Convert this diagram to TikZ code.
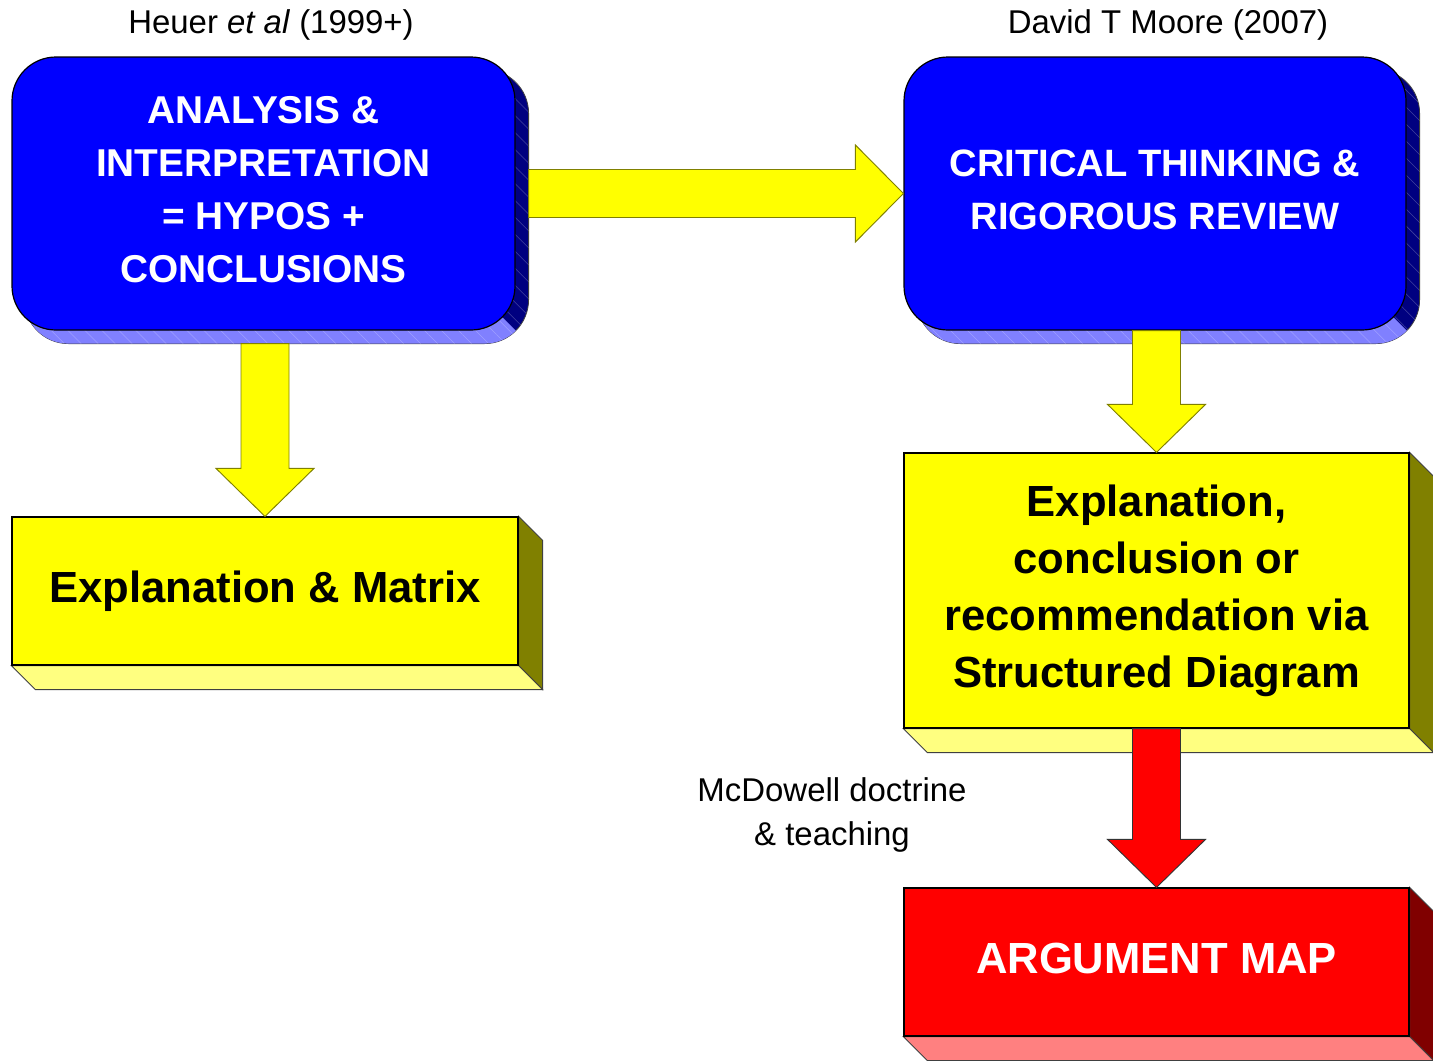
\documentclass[tikz,border=0pt]{standalone}
\usepackage{fontspec}
\setmainfont{Liberation Sans}
\usetikzlibrary{calc,backgrounds,patterns.meta}
\definecolor{boxblue}{HTML}{0000FF}
\definecolor{boxnavy}{HTML}{000080}
\definecolor{boxsky}{HTML}{8080FF}
\definecolor{boxyellow}{HTML}{FFFF00}
\definecolor{boxolive}{HTML}{808000}
\definecolor{boxcream}{HTML}{FFFF80}
\definecolor{boxred}{HTML}{FF0000}
\definecolor{boxmaroon}{HTML}{800000}
\definecolor{boxpink}{HTML}{FF8080}
\tikzset{
  front/.style={draw=black, line width=0.9pt, inner sep=0pt, align=center},
  bluebox/.style={front, fill=boxblue, rounded corners=33pt, text=white,
    font=\bfseries\fontsize{29.1}{39.75}\selectfont, text depth=6pt,
    minimum width=377.25pt, minimum height=204.75pt},
  yellowbox/.style={front, fill=boxyellow, font=\bfseries\fontsize{32.7}{42.75}\selectfont,
    minimum width=379pt},
  redbox/.style={front, fill=boxred, text=white, font=\bfseries\fontsize{32.7}{42.75}\selectfont,
    text depth=6pt, minimum width=378.75pt, minimum height=111pt},
  sidenote/.style={align=center, font=\fontsize{24.7}{33}\selectfont},
  edge/.style={draw=black!75, line width=0.6pt},
  yarrow/.style={fill=boxyellow, draw=boxolive, line width=0.7pt},
  rarrow/.style={fill=boxred, draw=black!80, line width=0.7pt},
  hatch/.style={pattern={Lines[angle=-45,distance=9pt,line width=0.4pt]}, pattern color=white, opacity=0.25}
}
% square slab under a box: #1 node, #2 depth, #3 side, #4 bottom
\newcommand{\slab}[4]{%
  \filldraw[edge, fill=#3] (#1.north east) -- ++(#2,#2) -- ($(#1.south east)+(#2,#2)$) -- (#1.south east) -- cycle;
  \filldraw[edge, fill=#4] (#1.south west) -- ++(#2,#2) -- ($(#1.south east)+(#2,#2)$) -- (#1.south east) -- cycle;}
% rounded slab under a blue box
\newcommand{\roundslab}[1]{%
  \filldraw[edge, fill=boxnavy, rounded corners=33pt] ($(#1.south west)+(13,13)$) rectangle ($(#1.north east)+(13,13)$);
  \begin{scope}
    \coordinate (#1-c) at ($(#1.south east)+(-44,-44)$);
    \clip (#1-c) -- ++(100,100) -- ($(#1.south west)+(-20,56)$) -- ($(#1.south west)+(-20,-44)$) -- cycle;
    \fill[boxsky, rounded corners=33pt] ($(#1.south west)+(13,13)$) rectangle ($(#1.north east)+(13,13)$);
  \end{scope}
  \fill[hatch, rounded corners=33pt] ($(#1.south west)+(13,13)$) rectangle ($(#1.north east)+(13,13)$);}
% block arrows: #1 style, #2 start, #3 tip
\newcommand{\dnarrow}[3]{%
  \draw[#1] ($(#2 -| #3)+(-24,0)$) -- ($(#3)+(-24,-48)$) -- ($(#3)+(-49,-48)$) -- (#3)
    -- ($(#3)+(49,-48)$) -- ($(#3)+(24,-48)$) -- ($(#2 -| #3)+(24,0)$) -- cycle;}
\newcommand{\rtarrow}[3]{%
  \draw[#1] ($(#2 |- #3)+(0,-24)$) -- ($(#3)+(-48,-24)$) -- ($(#3)+(-48,-48.5)$) -- (#3)
    -- ($(#3)+(-48,48.5)$) -- ($(#3)+(-48,24)$) -- ($(#2 |- #3)+(0,24)$) -- cycle;}
\begin{document}
\begin{tikzpicture}[x=0.75pt, y=-0.75pt]
\useasboundingbox (0,0) rectangle (1433,1060);

% boxes
\node[bluebox] (analysis) at (263.5,193.5) {ANALYSIS \&\\INTERPRETATION\\= HYPOS +\\CONCLUSIONS};
\node[bluebox, minimum width=376.5pt, font=\bfseries\fontsize{28.6}{39.75}\selectfont] (critical) at (1155,193.5)
  {CRITICAL THINKING \&\\RIGOROUS REVIEW};
\node[yellowbox, minimum width=379.5pt, minimum height=111pt] (matrix) at (265,591) {Explanation \& Matrix};
\node[yellowbox, minimum width=378.75pt, minimum height=206.25pt] (structured) at (1156.5,590.5)
  {Explanation,\\conclusion or\\recommendation via\\Structured Diagram};
\node[redbox] (argmap) at (1156.5,962) {ARGUMENT MAP};

% labels
\node[sidenote] (heuer) at (271,25) {Heuer \textit{et al} (1999+)};
\node[sidenote] (moore) at (1168,25) {David T Moore (2007)};
\node[sidenote] (mcdowell) at (832,815) {McDowell doctrine\\\& teaching};

% depth
\begin{scope}[on background layer]
  \roundslab{analysis}
  \roundslab{critical}
  \slab{matrix}{24}{boxolive}{boxcream}
  \slab{structured}{24}{boxolive}{boxcream}
  \slab{argmap}{24}{boxmaroon}{boxpink}
\end{scope}

% arrows
\coordinate (analysis-side) at ($(analysis.east)+(13,0)$);
\coordinate (analysis-foot) at ($(analysis.south)+(0,13)$);
\rtarrow{yarrow}{analysis-side}{critical.west}
\dnarrow{yarrow}{analysis-foot}{matrix.north}
\dnarrow{yarrow}{critical.south}{structured.north}
\dnarrow{rarrow}{structured.south}{argmap.north}
\end{tikzpicture}
\end{document}
